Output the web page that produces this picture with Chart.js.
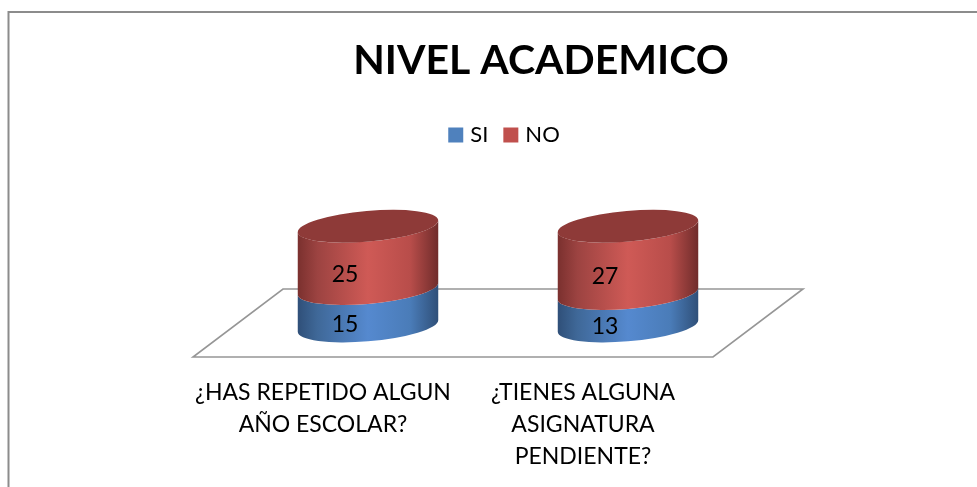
<!DOCTYPE html>
<html><head><meta charset="utf-8">
<style>html,body{margin:0;padding:0;background:#fff}canvas{display:block}</style>
<script src="https://cdn.jsdelivr.net/npm/chart.js@4"></script>
</head><body><div style="width:977px;height:487px"><canvas id="c" width="977" height="487"></canvas></div>
<script>
const chartTitle = "NIVEL ACADEMICO";
const categories = [["¿HAS REPETIDO ALGUN","AÑO ESCOLAR?"],["¿TIENES ALGUNA","ASIGNATURA","PENDIENTE?"]];
const seriesNames = ["SI","NO"];
const siValues = [15,13];
const noValues = [25,27];
const seriesColors = ["#4f81bd","#c0504d"];
const sideStops = [
  [["#2f4f78",0],["#3f6898",0.14],["#5589cf",0.5],["#4a7cb8",0.8],["#2f4f78",1]],
  [["#7a302e",0],["#9c4341",0.14],["#cf5a56",0.5],["#b84d4a",0.8],["#6f2c2b",1]]
];
const capColor = "#8e3a38";
const depthX = 90, depthY = 68, tilt = -5*Math.PI/180, capRy = 15.3;

const cylinder3d = {
  id:'cylinder3d',
  afterLayout(chart){
    chart.titleBlock.left += 88; chart.titleBlock.right += 88;
    chart.legend.left += 53; chart.legend.right += 53;
  },
  beforeDraw(chart){
    const g = chart.ctx; g.save();
    g.strokeStyle="#8c8c8c"; g.lineWidth=2;
    g.beginPath(); g.moveTo(8.5,500); g.lineTo(8.5,12); g.lineTo(990,12); g.stroke();
    g.restore();
  },
  beforeDatasetsDraw(chart){
    const g = chart.ctx, a = chart.chartArea; g.save();
    g.strokeStyle="#969696"; g.lineWidth=1.6;
    g.beginPath();
    g.moveTo(a.left,a.bottom); g.lineTo(a.right,a.bottom);
    g.lineTo(a.right+depthX,a.bottom-depthY); g.lineTo(a.left+depthX,a.bottom-depthY);
    g.closePath(); g.stroke(); g.restore();
  },
  beforeDatasetDraw(){ return false; },
  afterDatasetsDraw(chart){
    const g = chart.ctx;
    const n = chart.data.labels.length;
    for(let j=0;j<n;j++){
      chart.data.datasets.forEach((ds,i)=>{
        const el = chart.getDatasetMeta(i).data[j];
        const cx = el.x + depthX/2, rx = el.width/2;
        const yB = el.base - depthY/2 + 3, yT = el.y - depthY/2 + 3;
        const t0 = Math.atan2(-capRy*Math.sin(tilt), rx*Math.cos(tilt));
        const grad = g.createLinearGradient(cx-rx,0,cx+rx,0);
        sideStops[i].forEach(s=>grad.addColorStop(s[1],s[0]));
        g.beginPath();
        g.ellipse(cx,yB,rx,capRy,tilt,t0,t0+Math.PI,false);
        g.ellipse(cx,yT,rx,capRy,tilt,t0+Math.PI,t0,true);
        g.closePath(); g.fillStyle=grad; g.fill();
        if(i===chart.data.datasets.length-1){
          g.beginPath(); g.ellipse(cx,yT,rx,capRy,tilt,0,2*Math.PI);
          g.fillStyle=capColor; g.fill();
        }
      });
      chart.data.datasets.forEach((ds,i)=>{
        const el = chart.getDatasetMeta(i).data[j];
        g.fillStyle="#000"; g.font="23px Lato"; g.textAlign="center"; g.textBaseline="middle";
        g.fillText(String(ds.data[j]), el.x+22, (el.y+el.base)/2-14);
      });
    }
  }
};

new Chart(document.getElementById('c'),{
  type:'bar',
  data:{labels:categories,datasets:[
    {label:seriesNames[0],data:siValues,backgroundColor:seriesColors[0],borderColor:seriesColors[0],borderWidth:8,barPercentage:141/260,categoryPercentage:1},
    {label:seriesNames[1],data:noValues,backgroundColor:seriesColors[1],borderColor:seriesColors[1],borderWidth:8,barPercentage:141/260,categoryPercentage:1}
  ]},
  plugins:[cylinder3d],
  options:{
    responsive:false,animation:false,
    layout:{padding:{left:193,right:264,top:0,bottom:0}},
    plugins:{
      tooltip:{enabled:false},
      title:{display:true,text:chartTitle,color:"#000",font:{family:"Lato",size:41,weight:"bold"},padding:{top:36,bottom:19.8}},
      legend:{display:true,position:'top',labels:{boxWidth:7,boxHeight:7,color:"#000",font:{family:"Lato",size:22},padding:19}}
    },
    scales:{
      x:{stacked:true,grid:{display:false},border:{display:false},
         afterFit(s){s.height=130;},
         ticks:{color:"#000",font:{family:"Lato",size:23,lineHeight:32/23},padding:12,maxRotation:0,autoSkip:false}},
      y:{stacked:true,display:false,min:0,max:80.6}
    }
  }
});
</script></body></html>
